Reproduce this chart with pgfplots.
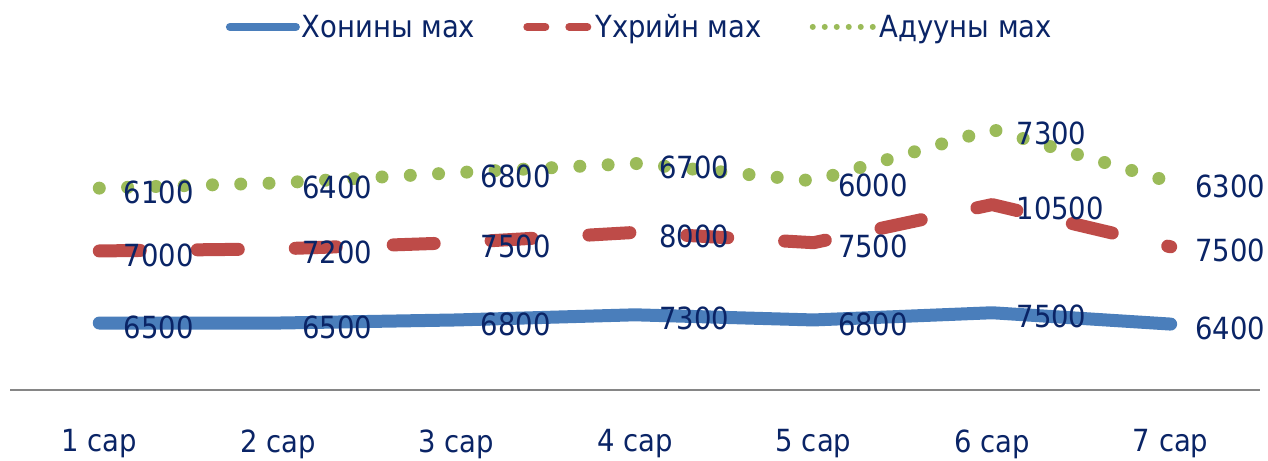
\documentclass[border=0pt]{standalone}
\usepackage{pgfplots}
\pgfplotsset{compat=1.18}
\usepackage{pgfplotstable}
\usepackage{fontspec}
\setmainfont{DejaVu Sans Condensed}
\definecolor{navy}{HTML}{0A2466}
\definecolor{sblue}{HTML}{4A7EBB}
\definecolor{sred}{HTML}{BE4B48}
\definecolor{sgreen}{HTML}{9BBB59}
\definecolor{axgray}{HTML}{868686}
\pgfplotstableread{
x v
1 6500
2 6500
3 6800
4 7300
5 6800
6 7500
7 6400
}\sheep
\pgfplotstableread{
x v
1 7000
2 7200
3 7500
4 8000
5 7500
6 10500
7 7500
}\cattle
\pgfplotstableread{
x v
1 6100
2 6400
3 6800
4 6700
5 6000
6 7300
7 6300
}\horse
\newcommand{\bigfont}{\fontsize{30.5bp}{35bp}\selectfont}
\begin{document}
\begin{tikzpicture}
\path[use as bounding box] (-10bp,-71bp) rectangle (1258bp,390bp);
\begin{axis}[
  scale only axis,
  width=1250bp, height=309bp,
  xmin=0.5, xmax=7.5, ymin=0, ymax=30000,
  stack plots=y,
  clip=false,
  axis x line*=bottom, axis y line=none,
  x axis line style={draw=axgray, line width=1.6bp},
  xtick={1,2,3,4,5,6,7},
  xticklabels={1 сар,2 сар,3 сар,4 сар,5 сар,6 сар,7 сар},
  major tick length=0pt,
  ytick=\empty,
  xticklabel style={font=\bigfont, text=navy, yshift=-36bp},
  point meta=explicit symbolic,
  nodes near coords,
  every node near coord/.append style={font=\bigfont, text=navy, anchor=west, inner sep=0pt, xshift=18bp, yshift=-4bp},
  legend style={draw=none, fill=none, at={(0.504,1.175)}, anchor=center, font=\bigfont, text=navy,
    legend columns=3, /tikz/every even column/.append style={column sep=46bp}},
]
\addplot[sblue, line width=13bp, line cap=round, line join=round,
  legend image code/.code={\draw[sblue, line width=8bp, line cap=round] (0bp,0bp) -- (66bp,0bp);}]
  table[x=x, y=v, meta=v] {\sheep};
\addlegendentry{Хонины мах}
\addplot[sred, line width=13bp, line cap=round, line join=round, dash pattern=on 41bp off 57bp,
  legend image code/.code={\draw[sred, line width=8bp, line cap=round, dash pattern=on 18bp off 24bp] (4bp,0bp) -- (66bp,0bp);}]
  table[x=x, y=v, meta=v] {\cattle};
\addlegendentry{Үхрийн мах}
\addplot[sgreen, line width=13bp, line cap=round, line join=round, dash pattern=on 0bp off 28.3bp,
  legend image code/.code={\draw[sgreen, line width=6bp, line cap=round, dash pattern=on 0bp off 12bp] (4bp,0bp) -- (66bp,0bp);}]
  table[x=x, y=v, meta=v] {\horse};
\addlegendentry{Адууны мах}
\end{axis}
\end{tikzpicture}
\end{document}
